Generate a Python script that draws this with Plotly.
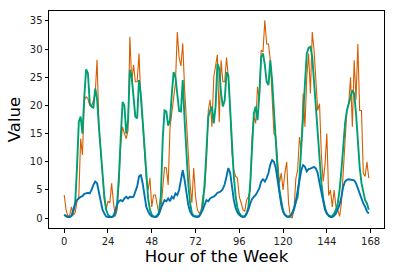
import plotly.graph_objects as go

hours = list(range(168))

orange = [4.1, 1.5, 0.3, 0.5, 2.0, 0.5, 1.0, 3.0, 3.8, 14.1, 11.2, 20.9, 21.5, 21.2, 20.0, 19.8, 20.9, 22.1, 28.1, 16.8, 12.1, 7.4, 3.2, 1.5,
          3.0, 2.7, 6.2, 2.7, 0.3, 1.5, 6.2, 13.3, 16.2, 15.0, 14.1, 15.6, 32.2, 24.2, 27.2, 24.2, 24.2, 29.2, 21.0, 17.0, 12.0, 7.0, 5.0, 7.1,
          2.0, 4.1, 4.1, 2.0, 0.6, 1.5, 5.0, 9.0, 8.9, 5.9, 16.0, 19.0, 21.5, 24.0, 33.0, 28.5, 27.0, 31.0, 23.0, 17.0, 12.0, 6.0, 2.7, 8.9,
          3.8, 1.5, 0.9, 1.2, 3.8, 5.0, 10.3, 19.1, 21.0, 16.2, 25.0, 26.9, 29.0, 17.0, 28.0, 24.2, 24.2, 28.5, 25.0, 19.1, 11.5, 8.5, 7.4, 7.1,
          3.8, 2.7, 1.5, 1.2, 3.2, 3.8, 5.0, 14.4, 18.0, 16.8, 23.3, 21.0, 29.8, 29.5, 35.1, 30.9, 30.9, 28.0, 22.1, 15.0, 14.4, 9.7, 6.2, 8.0,
          5.0, 8.0, 10.0, 2.7, 0.3, 0.0, 1.5, 7.0, 8.5, 14.4, 12.0, 22.1, 16.2, 25.0, 29.2, 22.1, 33.0, 29.8, 25.0, 19.1, 20.3, 11.2, 6.5, 9.5,
          15.0, 4.0, 5.0, 2.0, 5.0, 2.0, 1.5, 0.3, 2.7, 9.0, 14.4, 19.1, 20.3, 25.0, 16.2, 28.0, 21.0, 30.9, 19.1, 19.1, 8.0, 7.4, 10.0, 7.1]

green = [0.6, 0.3, 0.2, 0.2, 0.4, 1.5, 2.6, 9.0, 17.1, 18.0, 15.0, 21.5, 26.4, 25.7, 20.4, 19.8, 19.6, 23.0, 21.2, 16.2, 11.5, 7.4, 3.8, 1.5,
         0.6, 0.3, 0.2, 0.3, 0.9, 2.6, 7.4, 14.4, 20.6, 20.0, 15.0, 17.4, 26.3, 25.0, 21.5, 18.0, 17.7, 24.5, 22.0, 17.0, 12.0, 7.0, 3.5, 1.5,
         0.6, 0.3, 0.2, 0.5, 1.0, 4.0, 14.0, 19.1, 18.9, 16.4, 17.4, 22.1, 25.9, 25.0, 21.5, 19.0, 18.9, 24.5, 17.4, 11.5, 6.2, 2.7, 0.9, 0.4,
         0.3, 0.3, 0.4, 0.9, 2.4, 6.2, 12.0, 18.0, 19.1, 19.8, 16.8, 19.8, 27.4, 26.5, 22.1, 19.8, 20.9, 25.9, 25.3, 19.1, 12.0, 7.4, 3.8, 1.8,
         0.9, 0.4, 0.3, 0.3, 0.8, 2.0, 6.2, 13.3, 18.6, 19.8, 17.4, 22.1, 28.6, 29.2, 27.2, 24.2, 23.6, 28.0, 24.5, 19.1, 13.3, 8.5, 5.0, 2.7,
         1.2, 0.6, 0.3, 0.3, 0.4, 0.8, 1.8, 2.5, 3.8, 7.4, 12.0, 18.0, 23.9, 29.2, 30.2, 30.4, 28.6, 23.9, 18.6, 13.9, 9.7, 6.2, 3.5, 1.8,
         0.9, 0.4, 0.3, 0.4, 0.8, 1.5, 2.6, 5.0, 8.5, 12.7, 16.8, 19.1, 20.6, 21.5, 22.7, 22.1, 18.6, 13.3, 9.1, 6.2, 4.4, 3.2, 2.6, 1.5]

blue = [0.6, 0.4, 0.2, 0.2, 0.4, 1.2, 2.6, 3.2, 3.5, 3.8, 3.9, 4.3, 4.4, 4.5, 4.4, 5.0, 5.9, 6.5, 6.2, 4.7, 3.0, 1.5, 0.8, 0.3,
        0.2, 0.2, 0.2, 0.4, 1.2, 2.4, 3.0, 3.2, 3.0, 3.5, 3.8, 3.5, 3.8, 3.7, 3.8, 4.7, 5.6, 7.4, 7.7, 6.2, 3.8, 2.0, 1.2, 0.6,
        0.3, 0.2, 0.2, 0.3, 0.8, 1.8, 2.6, 3.2, 3.0, 3.5, 3.0, 3.8, 3.5, 4.4, 4.1, 5.0, 6.8, 8.5, 6.8, 4.4, 2.4, 1.2, 0.6, 0.3,
        0.2, 0.2, 0.3, 0.8, 1.5, 2.4, 3.2, 3.0, 3.5, 3.7, 3.8, 4.1, 4.5, 4.6, 4.8, 5.2, 6.0, 7.4, 8.9, 8.0, 5.6, 3.2, 1.8, 1.0,
        0.6, 0.3, 0.2, 0.3, 0.8, 1.5, 2.6, 3.4, 3.8, 4.1, 4.7, 5.3, 6.5, 6.9, 6.5, 7.1, 8.0, 9.5, 10.3, 10.0, 8.9, 6.8, 4.4, 2.4,
        1.2, 0.6, 0.3, 0.2, 0.3, 0.8, 1.5, 3.0, 5.0, 6.8, 8.5, 9.4, 9.1, 8.3, 8.7, 8.8, 9.0, 9.1, 8.8, 8.0, 6.2, 4.7, 3.0, 1.5,
        0.8, 0.4, 0.2, 0.2, 0.4, 0.8, 1.5, 2.4, 3.8, 5.6, 6.5, 6.8, 6.9, 6.8, 6.8, 6.7, 6.2, 5.3, 4.1, 3.2, 2.6, 2.0, 1.2, 0.8]

x_ticks = [0, 24, 48, 72, 96, 120, 144, 168]
y_ticks = [0, 5, 10, 15, 20, 25, 30, 35]

fig = go.Figure()
fig.add_trace(go.Scatter(x=hours, y=orange, mode="lines", line=dict(color="#D55E00", width=1.1), showlegend=False))
fig.add_trace(go.Scatter(x=hours, y=green, mode="lines", line=dict(color="#009E73", width=1.9), showlegend=False))
fig.add_trace(go.Scatter(x=hours, y=blue, mode="lines", line=dict(color="#0072B2", width=1.9), showlegend=False))

axis_common = dict(showgrid=False, zeroline=False, showline=True, linecolor="black", linewidth=1,
                   mirror=True, ticks="outside", ticklen=3.5, tickwidth=1, tickcolor="black",
                   automargin=False,
                   tickfont=dict(family="DejaVu Sans", size=10, color="#222"))

fig.update_xaxes(range=[-8.35, 175.35], tickvals=x_ticks, ticktext=[str(t) for t in x_ticks],
                 title=dict(text="Hour of the Week", font=dict(family="DejaVu Sans", size=16.5, color="black"), standoff=4),
                 **axis_common)
fig.update_yaxes(range=[-1.75, 36.75], tickvals=y_ticks, ticktext=[str(t) for t in y_ticks],
                 title=dict(text="Value", font=dict(family="DejaVu Sans", size=16.5, color="black"), standoff=4),
                 **axis_common)

fig.update_layout(width=394, height=274, margin=dict(l=49, r=10, t=11, b=46),
                  plot_bgcolor="white", paper_bgcolor="white")

fig.write_html("out.html", config={"displayModeBar": False},
               post_script="document.body.style.margin='0';document.body.style.padding='0';")
